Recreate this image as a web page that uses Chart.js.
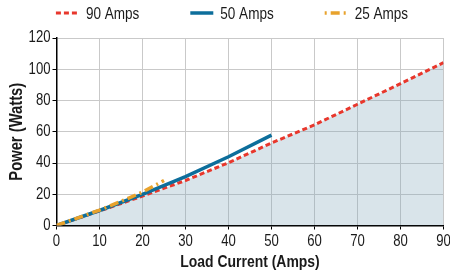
<!DOCTYPE html>
<html>
<head>
<meta charset="utf-8">
<script src="https://cdn.jsdelivr.net/npm/chart.js@4/dist/chart.umd.min.js"></script>
<style>
  html, body { margin: 0; padding: 0; background: #fff; }
  #wrap { width: 450px; height: 277px; position: relative; }
</style>
</head>
<body>
<div id="wrap"><canvas id="c" width="450" height="277"></canvas></div>
<script>
// ---- data ----
const seriesNames = ['90 Amps', '50 Amps', '25 Amps'];
const current90 = [0, 10, 20, 30, 40, 50, 60, 70, 80, 90];
const power90   = [0, 9.3, 18.8, 28.8, 40.2, 52.8, 64.4, 77.6, 90.8, 104.2];
const current50 = [0, 10, 20, 30, 40, 50];
const power50   = [0, 9.6, 19.9, 31.3, 44.0, 57.8];
const current25 = [0, 5, 10, 15, 20, 25];
const power25   = [0, 4.9, 9.9, 15.4, 21.4, 28.8];
const xTickValues = [0, 10, 20, 30, 40, 50, 60, 70, 80, 90];
const yTickValues = [0, 20, 40, 60, 80, 100, 120];
const xTitle = 'Load Current (Amps)';
const yTitle = 'Power (Watts)';

const FONT = "'Liberation Sans', Arial, sans-serif";
const NARROW = 0.82; // emulate a condensed face (Arial Narrow = 82% of Arial widths)

function pts(xs, ys) { return xs.map((x, i) => ({ x: x, y: ys[i] })); }

const canvas = document.getElementById('c');
const ctx = canvas.getContext('2d');
// condensed text rendering: scale glyphs horizontally around their anchor
const origFill = ctx.fillText.bind(ctx);
const origMeasure = ctx.measureText.bind(ctx);
ctx.fillText = function (text, x, y, maxWidth) {
  this.save();
  this.translate(x, y);
  this.scale(NARROW, 1);
  if (maxWidth !== undefined) origFill(text, 0, 0, maxWidth / NARROW);
  else origFill(text, 0, 0);
  this.restore();
};
ctx.measureText = function (text) {
  const m = origMeasure(text);
  return {
    width: m.width * NARROW,
    actualBoundingBoxAscent: m.actualBoundingBoxAscent,
    actualBoundingBoxDescent: m.actualBoundingBoxDescent,
    actualBoundingBoxLeft: m.actualBoundingBoxLeft * NARROW,
    actualBoundingBoxRight: m.actualBoundingBoxRight * NARROW
  };
};

const legendPlugin = {
  id: 'customLegend',
  afterDraw(chart) {
    const c = chart.ctx;
    const sets = chart.data.datasets;
    c.save();
    c.font = '16.5px ' + FONT;
    const sample = 23, gapText = 7, gapItem = 51;
    const widths = sets.map(d => sample + gapText + c.measureText(d.label).width);
    const total = widths.reduce((a, b) => a + b, 0) + gapItem * (sets.length - 1);
    let x = chart.width / 2 + 7 - total / 2;
    const y = 13;
    sets.forEach((d, i) => {
      c.beginPath();
      c.setLineDash(d.legendDash || d.borderDash || []);
      c.lineWidth = d.borderWidth;
      c.strokeStyle = d.borderColor;
      c.moveTo(x, y);
      c.lineTo(x + sample, y);
      c.stroke();
      c.setLineDash([]);
      c.fillStyle = '#1a1a1a';
      c.textBaseline = 'middle';
      c.textAlign = 'left';
      c.fillText(d.label, x + sample + gapText, y + 1);
      x += widths[i] + gapItem;
    });
    c.restore();
  }
};

new Chart(ctx, {
  type: 'line',
  data: {
    datasets: [
      {
        label: seriesNames[0],
        data: pts(current90, power90),
        borderColor: '#e8372c',
        borderWidth: 3,
        borderDash: [5, 3],
        legendDash: [5, 3],
        backgroundColor: 'rgba(128,165,185,0.3)',
        fill: 'origin',
        pointRadius: 0,
        tension: 0,
        order: 3
      },
      {
        label: seriesNames[1],
        data: pts(current50, power50),
        borderColor: '#0d6e9b',
        borderWidth: 3.5,
        fill: false,
        pointRadius: 0,
        tension: 0,
        order: 2
      },
      {
        label: seriesNames[2],
        data: pts(current25, power25),
        borderColor: '#e8a22c',
        borderWidth: 3.5,
        borderDash: [9, 4, 2, 4],
        legendDash: [2, 4, 9, 4, 2],
        fill: false,
        pointRadius: 0,
        tension: 0,
        order: 1
      }
    ]
  },
  options: {
    responsive: false,
    animation: false,
    layout: { padding: { top: 38, right: 0, left: 0, bottom: 0 } },
    plugins: { legend: { display: false }, tooltip: { enabled: false } },
    scales: {
      x: {
        type: 'linear',
        min: 0, max: 90,
        afterBuildTicks(s) { s.ticks = xTickValues.map(v => ({ value: v })); },
        afterFit(s) { s.height = 51.5; s.paddingRight = 6.5; s.paddingLeft = 0; },
        grid: { color: '#c9c9c9', lineWidth: 1, tickLength: 4, tickColor: '#000' },
        border: { color: '#000', width: 1.5 },
        ticks: { color: '#1a1a1a', font: { family: FONT, size: 16 }, padding: 2, maxRotation: 0 },
        title: { display: true, text: xTitle, color: '#1a1a1a',
                 font: { family: FONT, size: 17, weight: 'bold' }, padding: { top: 0, bottom: 4 } }
      },
      y: {
        type: 'linear',
        min: 0, max: 120,
        afterBuildTicks(s) { s.ticks = yTickValues.map(v => ({ value: v })); },
        afterFit(s) { s.width = 56.5; },
        grid: { color: '#c9c9c9', lineWidth: 1, tickLength: 4, tickColor: '#000' },
        border: { color: '#000', width: 1.5 },
        ticks: { color: '#1a1a1a', font: { family: FONT, size: 16 }, padding: 2 },
        title: { display: true, text: yTitle, color: '#1a1a1a',
                 font: { family: FONT, size: 18, weight: 'bold' }, padding: { top: 6, bottom: 0 } }
      }
    }
  },
  plugins: [legendPlugin]
});
</script>
</body>
</html>
